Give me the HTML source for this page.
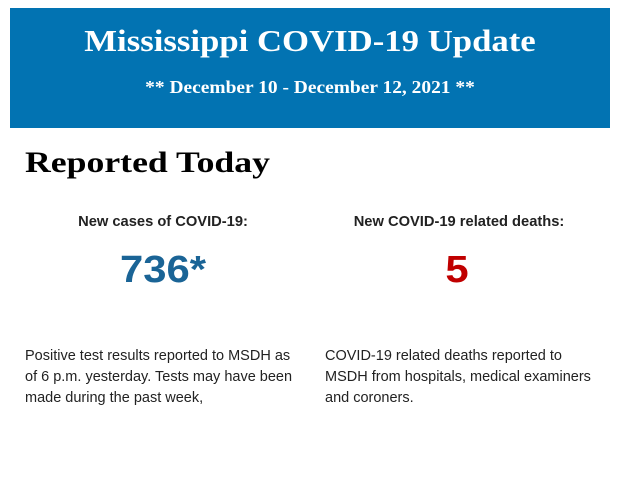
<!DOCTYPE html>
<html><head><style>
body{margin:0;width:620px;height:483px;background:#fff;position:relative;overflow:hidden;font-family:"Liberation Sans",sans-serif}
.hdr{position:absolute;left:10px;top:8px;width:600px;height:120px;background:#0273b2;color:#fff;text-align:center;font-family:"Liberation Serif",serif;font-weight:bold}
.t1{position:absolute;left:0;right:0;top:15px;font-size:31px;line-height:36px;transform:scaleX(1.12)}
.t2{position:absolute;left:0;right:0;top:68px;font-size:18px;line-height:22px;transform:scaleX(1.08)}
.rt{position:absolute;left:25px;top:145px;font-family:"Liberation Serif",serif;font-weight:bold;font-size:30px;line-height:36px;color:#000;transform:scaleX(1.19);transform-origin:0 0}
.lab{position:absolute;top:214px;width:300px;text-align:center;font-weight:bold;font-size:14.7px;color:#222}
.num{position:absolute;top:248px;width:300px;text-align:center;font-weight:bold;font-size:38px;line-height:44px;transform:scaleX(1.1)}
.p{position:absolute;top:346px;font-size:14.5px;line-height:21px;color:#222}
</style></head><body>
<div class="hdr"><div class="t1">Mississippi COVID-19 Update</div><div class="t2">** December 10 - December 12, 2021 **</div></div>
<div class="rt">Reported Today</div>
<div class="lab" style="left:13px">New cases of COVID-19:</div>
<div class="lab" style="left:309px">New COVID-19 related deaths:</div>
<div class="num" style="left:13px;color:#1a6496">736*</div>
<div class="num" style="left:307px;color:#c00000">5</div>
<div class="p" style="left:25px;width:276px">Positive test results reported to MSDH as of 6 p.m. yesterday. Tests may have been made during the past week,</div>
<div class="p" style="left:325px;width:272px">COVID-19 related deaths reported to MSDH from hospitals, medical examiners and coroners.</div>
</body></html>
